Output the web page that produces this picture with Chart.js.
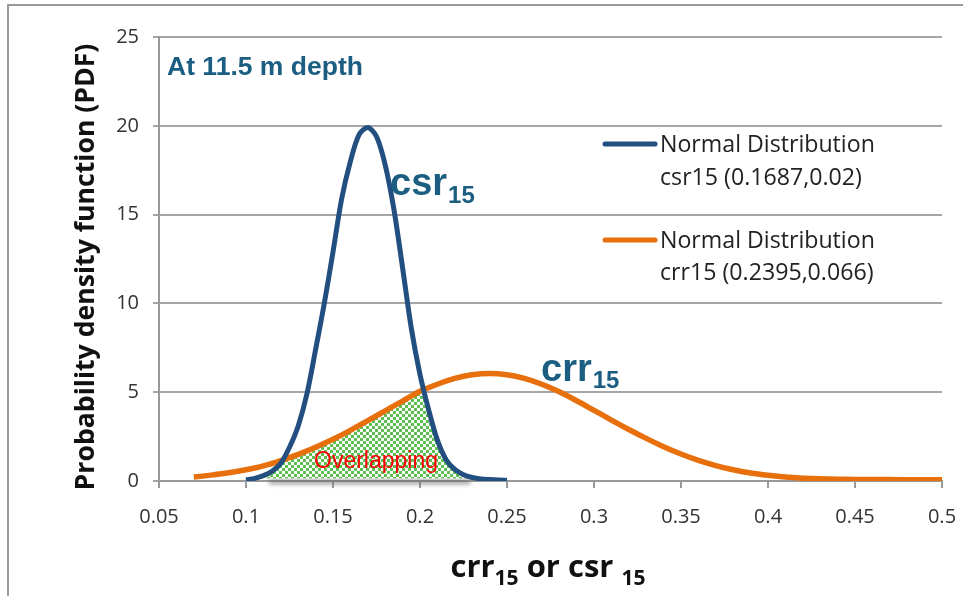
<!DOCTYPE html>
<html>
<head>
<meta charset="utf-8">
<script src="https://cdn.jsdelivr.net/npm/chart.js@4.4.1/dist/chart.umd.min.js"></script>
<style>
  html, body { margin: 0; padding: 0; background: #fff; }
  canvas { display: block; }
</style>
</head>
<body>
<canvas id="pdf-chart" width="963" height="596"></canvas>
<script>
// axis ticks
const xTickValues = [0.05, 0.1, 0.15, 0.2, 0.25, 0.3, 0.35, 0.4, 0.45, 0.5];
const xTickLabels = ["0.05", "0.1", "0.15", "0.2", "0.25", "0.3", "0.35", "0.4", "0.45", "0.5"];
const yTickValues = [0, 5, 10, 15, 20, 25];

// csr15 curve, normal (0.1687, 0.02)
const csrX = [0.100, 0.105, 0.110, 0.115, 0.120, 0.125, 0.130, 0.135, 0.140, 0.145,
              0.150, 0.155, 0.160, 0.165, 0.170, 0.175, 0.180, 0.185, 0.190, 0.195,
              0.200, 0.205, 0.210, 0.215, 0.220, 0.225, 0.230, 0.235, 0.240, 0.245, 0.250];
const csrY = [0.05, 0.15, 0.30, 0.55, 1.0, 1.9, 3.1, 4.9, 7.4, 10.0,
              12.9, 15.9, 18.0, 19.5, 19.9, 19.4, 17.8, 15.3, 12.0, 8.6,
              6.0, 4.0, 2.3, 1.2, 0.65, 0.35, 0.2, 0.12, 0.08, 0.05, 0.04];

// crr15 curve, normal (0.2395, 0.066)
const crrX = [0.07, 0.08, 0.09, 0.10, 0.11, 0.12, 0.13, 0.14, 0.15, 0.16, 0.17,
              0.18, 0.19, 0.20, 0.21, 0.22, 0.23, 0.24, 0.25, 0.26, 0.27, 0.28,
              0.29, 0.30, 0.31, 0.32, 0.33, 0.34, 0.35, 0.36, 0.37, 0.38, 0.39,
              0.40, 0.41, 0.42, 0.43, 0.44, 0.45, 0.46, 0.47, 0.48, 0.49, 0.50];
const crrY = [0.22, 0.33, 0.46, 0.63, 0.85, 1.15, 1.5, 1.9, 2.35, 2.85, 3.4,
              3.95, 4.5, 5.05, 5.45, 5.78, 5.98, 6.05, 5.98, 5.78, 5.45, 5.02,
              4.52, 3.98, 3.43, 2.9, 2.4, 1.93, 1.52, 1.16, 0.87, 0.63, 0.45,
              0.32, 0.22, 0.16, 0.12, 0.10, 0.09, 0.09, 0.08, 0.07, 0.07, 0.07];

// shaded area under both curves
const overlapX = [0.112, 0.116, 0.121, 0.13, 0.14, 0.15, 0.16, 0.17, 0.18, 0.19,
                  0.2, 0.2025, 0.205, 0.21, 0.215, 0.22, 0.225, 0.229];
const overlapY = [0.2, 0.55, 1.2, 1.5, 1.9, 2.35, 2.85, 3.4, 3.95, 4.5,
                  5.05, 5.0, 4.0, 2.3, 1.2, 0.65, 0.35, 0.2];
const overlapBase = 0.15;

const blue = "#234E80";
const orange = "#E8700C";
const teal = "#1B5E82";

const toPoints = (xs, ys) => xs.map((x, i) => ({ x, y: ys[i] }));

// green/white checkerboard for the overlap fill
function checker() {
  const c = document.createElement("canvas");
  c.width = 6;
  c.height = 6;
  const g = c.getContext("2d");
  g.fillStyle = "#ffffff";
  g.fillRect(0, 0, 6, 6);
  g.fillStyle = "#5CBF50";
  g.fillRect(0, 0, 3, 3);
  g.fillRect(3, 3, 3, 3);
  return g.createPattern(c, "repeat");
}

function fitSize(ctx, text, weight, family, width) {
  ctx.font = `${weight} 100px ${family}`;
  return (100 * width) / ctx.measureText(text).width;
}

const decor = {
  id: "decor",
  beforeDraw(chart) {
    const ctx = chart.ctx;
    ctx.save();
    ctx.fillStyle = "#fff";
    ctx.fillRect(0, 0, chart.width, chart.height);
    ctx.strokeStyle = "#9a9a9a";
    ctx.lineWidth = 2;
    ctx.beginPath();
    ctx.moveTo(8, chart.height);
    ctx.lineTo(8, 5);
    ctx.lineTo(chart.width, 5);
    ctx.stroke();
    ctx.restore();
  },
  beforeDatasetsDraw(chart) {
    // soft shadow under the overlap area
    const ctx = chart.ctx;
    const xs = chart.scales.x;
    const ys = chart.scales.y;
    const x0 = xs.getPixelForValue(overlapX[0]) + 2;
    const x1 = xs.getPixelForValue(overlapX[overlapX.length - 1]);
    const y0 = ys.getPixelForValue(overlapBase);
    ctx.save();
    ctx.filter = "blur(2px)";
    ctx.fillStyle = "rgba(90,90,90,0.55)";
    ctx.fillRect(x0, y0 + 1, x1 - x0, 5);
    ctx.restore();
  },
  afterDatasetsDraw(chart) {
    const ctx = chart.ctx;
    ctx.save();
    ctx.textBaseline = "alphabetic";
    ctx.textAlign = "left";

    ctx.fillStyle = "#FF0000";
    ctx.font = "23px 'Liberation Sans', Arial, sans-serif";
    ctx.fillText("Overlapping", 314, 468);

    ctx.fillStyle = teal;
    const big = "bold 38px 'Liberation Sans', Arial, sans-serif";
    const small = "bold 24px 'Liberation Sans', Arial, sans-serif";
    ctx.font = big;
    ctx.fillText("csr", 390, 195);
    let w = ctx.measureText("csr").width;
    ctx.font = small;
    ctx.fillText("15", 391 + w, 203);

    ctx.font = big;
    ctx.fillText("crr", 541, 381);
    w = ctx.measureText("crr").width;
    ctx.font = small;
    ctx.fillText("15", 542 + w, 388);

    const hSize = fitSize(ctx, "At 11.5 m depth", "bold", "'Liberation Sans', Arial", 196);
    ctx.font = `bold ${hSize}px 'Liberation Sans', Arial, sans-serif`;
    ctx.fillText("At 11.5 m depth", 167, 75);
    ctx.restore();
  },
  afterDraw(chart) {
    const ctx = chart.ctx;
    ctx.save();

    // legend
    const legSize = fitSize(ctx, "Normal Distribution", "normal", "'Open Sans'", 215);
    ctx.lineCap = "round";
    ctx.lineWidth = 5;
    ctx.strokeStyle = blue;
    ctx.beginPath();
    ctx.moveTo(605, 144);
    ctx.lineTo(655, 144);
    ctx.stroke();
    ctx.strokeStyle = orange;
    ctx.beginPath();
    ctx.moveTo(605, 240);
    ctx.lineTo(655, 240);
    ctx.stroke();
    ctx.fillStyle = "#222";
    ctx.font = `${legSize}px 'Open Sans', sans-serif`;
    ctx.textAlign = "left";
    ctx.textBaseline = "alphabetic";
    ctx.fillText("Normal Distribution", 660, 152);
    ctx.fillText("csr15 (0.1687,0.02)", 660, 185);
    ctx.fillText("Normal Distribution", 660, 248);
    ctx.fillText("crr15 (0.2395,0.066)", 660, 280);

    // y axis title
    const yTitle = "Probability density function (PDF)";
    const ySize = fitSize(ctx, yTitle, "bold", "'Open Sans'", 447);
    ctx.translate(86, 267);
    ctx.rotate(-Math.PI / 2);
    ctx.font = `bold ${ySize}px 'Open Sans', sans-serif`;
    ctx.fillStyle = "#111";
    ctx.textAlign = "center";
    ctx.textBaseline = "middle";
    ctx.fillText(yTitle, 0, 0);
    ctx.setTransform(1, 0, 0, 1, 0, 0);

    // x axis title with subscripts
    const parts = [
      ["crr", false], ["15", true], [" or csr ", false], ["15", true],
    ];
    const mainFont = "bold 31px 'Open Sans', sans-serif";
    const subFont = "bold 21px 'Open Sans', sans-serif";
    let total = 0;
    for (const [t, sub] of parts) {
      ctx.font = sub ? subFont : mainFont;
      total += ctx.measureText(t).width;
    }
    let x = 548 - total / 2;
    ctx.fillStyle = "#111";
    ctx.textAlign = "left";
    ctx.textBaseline = "alphabetic";
    for (const [t, sub] of parts) {
      ctx.font = sub ? subFont : mainFont;
      ctx.fillText(t, x, sub ? 585 : 577);
      x += ctx.measureText(t).width;
    }
    ctx.restore();
  },
};

const ctx = document.getElementById("pdf-chart").getContext("2d");

new Chart(ctx, {
  type: "line",
  data: {
    datasets: [
      {
        label: "Normal Distribution csr15 (0.1687,0.02)",
        data: toPoints(csrX, csrY),
        borderColor: blue,
        borderWidth: 5,
        pointRadius: 0,
        tension: 0.3,
        fill: false,
      },
      {
        label: "Normal Distribution crr15 (0.2395,0.066)",
        data: toPoints(crrX, crrY),
        borderColor: orange,
        borderWidth: 5.5,
        pointRadius: 0,
        tension: 0.3,
        fill: false,
      },
      {
        label: "Overlapping",
        data: toPoints(overlapX, overlapY),
        borderWidth: 0,
        borderColor: "rgba(0,0,0,0)",
        backgroundColor: checker(),
        pointRadius: 0,
        tension: 0,
        fill: { value: overlapBase },
      },
    ],
  },
  options: {
    responsive: false,
    animation: false,
    events: [],
    layout: { padding: { top: 37, right: 21, left: 0, bottom: 0 } },
    plugins: {
      legend: { display: false },
      tooltip: { enabled: false },
    },
    scales: {
      x: {
        type: "linear",
        min: 0.05,
        max: 0.5,
        afterFit: (scale) => { scale.height = 115; },
        afterBuildTicks: (scale) => {
          scale.ticks = xTickValues.map((v) => ({ value: v }));
        },
        ticks: {
          padding: 6,
          color: "#333",
          font: { family: "'Open Sans', sans-serif", size: 20, lineHeight: 2.3 },
          callback: (value, i) => xTickLabels[i],
        },
        grid: {
          drawOnChartArea: false,
          color: "#9a9a9a",
          lineWidth: 2,
          tickLength: 7,
        },
        border: { color: "#9a9a9a", width: 2 },
      },
      y: {
        type: "linear",
        min: 0,
        max: 25,
        afterFit: (scale) => { scale.width = 159; },
        afterBuildTicks: (scale) => {
          scale.ticks = yTickValues.map((v) => ({ value: v }));
        },
        ticks: {
          padding: 14,
          color: "#333",
          font: { family: "'Open Sans', sans-serif", size: 20 },
        },
        grid: {
          color: "#a6a6a6",
          lineWidth: 2,
          tickLength: 6,
        },
        border: { color: "#9a9a9a", width: 2 },
      },
    },
  },
  plugins: [decor],
});
</script>
</body>
</html>
